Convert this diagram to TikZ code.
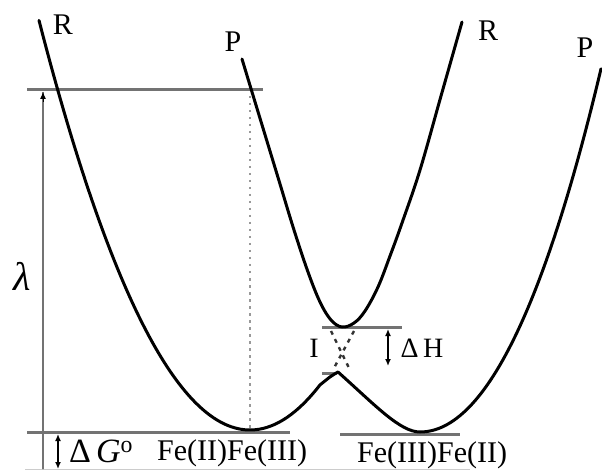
\documentclass[tikz,border=0pt]{standalone}
\usepackage{fontspec}
\setmainfont{Liberation Serif}
\usetikzlibrary{arrows.meta}
\begin{document}
\begin{tikzpicture}[x=1pt,y=-1pt,
  curve/.style={line width=3pt, black, line join=round, line cap=round},
  level/.style={line width=3pt, black!55},
  faint/.style={line width=1.2pt, black!20},
  dimline/.style={line width=2pt, black!55},
  arr/.style={{Latex[length=7pt,width=6pt]}-{Latex[length=7pt,width=6pt]}, line width=1.6pt, black},
  diab/.style={line width=2.4pt, black!80, dash pattern=on 4pt off 5pt},
  lbl/.style={inner sep=0pt, font=\fontsize{30}{30}\selectfont},
  fe/.style={inner sep=0pt, font=\fontsize{30}{30}\selectfont}]
\useasboundingbox (0,0) rectangle (602,470);
% levels
\coordinate (lamTopL) at (27,90);   \coordinate (lamTopR) at (263,90);
\coordinate (gL) at (27,432);      \coordinate (gR) at (290,432);
\coordinate (pL) at (340,434);     \coordinate (pR) at (460,434);
\coordinate (bL) at (25,470);      \coordinate (bR) at (470,470);
\coordinate (hL) at (322,327);     \coordinate (hR) at (402,327);
\coordinate (cL) at (322,373);     \coordinate (cR) at (337,373);
\draw[level] (lamTopL) -- (lamTopR);
\draw[level] (gL) -- (gR);
\draw[level] (pL) -- (pR);
\draw[level] (hL) -- (hR);
\draw[level] (cL) -- (cR);
\draw[faint] (bL) -- (bR);
% dotted vertical
\coordinate (dT) at (250,96); \coordinate (dB) at (250,428);
\draw[line width=2.6pt, black!40, dash pattern=on 2.5pt off 4.5pt] (dT) -- (dB);
% arrows
\coordinate (lamA) at (43,92); \coordinate (lamB) at (43,469);
\draw[dimline] (lamA) -- (lamB);
\draw[{Latex[length=7pt,width=6pt]}-, line width=1pt, black] (lamA) -- +(0,10);
\draw[-{Latex[length=7pt,width=6pt]}, line width=1pt, black] ([yshift=-10pt]lamB) -- (lamB);
\coordinate (dgA) at (58,434); \coordinate (dgB) at (58,469);
\draw[arr] (dgA) -- (dgB);
\coordinate (dhA) at (388,329); \coordinate (dhB) at (388,366);
\draw[arr] (dhA) -- (dhB);
% lower surface
\coordinate (cusp) at (338,372);
\coordinate (pmin) at (420,432);
\draw[curve] plot[domain=39:320, samples=80] (\x, {430-0.92*((\x-250)/10)^2}) .. controls (331,376) .. (cusp);
\draw[curve] (cusp) .. controls (375,405) and (400,432) .. (pmin)
  -- plot[domain=0:18.1, samples=60] ({420+10*\x}, {432-\x^2-0.006*\x^3});
% upper surface
\draw[curve] plot[smooth, tension=0.6] coordinates {(242,59) (252,92) (266,138) (280,184) (294,230) (308,272) (320,302) (331,320) (342,327) (354,323) (365,311) (378,287) (390,256) (402,223) (420,170) (441,96) (462,22)};
% diabatic dashes
\coordinate (x1) at (331,331); \coordinate (x2) at (349,368);
\coordinate (x3) at (354,331); \coordinate (x4) at (334,368);
\draw[diab] (x1) -- (x2);
\draw[diab] (x3) -- (x4);
% labels
\node[lbl] (R1) at (63,25) {R};
\node[lbl] (P1) at (233,42) {P};
\node[lbl] (R2) at (488,31) {R};
\node[lbl] (P2) at (585,48) {P};
\node[inner sep=0pt, font=\fontsize{40}{40}\selectfont] (lam) at (22,276) {\textit{λ}};
\node[inner sep=0pt, font=\fontsize{28}{28}\selectfont] (I) at (314,348) {I};
\node[inner sep=0pt, font=\fontsize{28}{28}\selectfont] (dH) at (422,348) {Δ\,H};
\node[inner sep=0pt, font=\fontsize{34}{34}\selectfont, anchor=base west] (dG) at (69,462) {Δ\hspace{5pt}\textit{G}\textsuperscript{o}};
\node[fe, anchor=base west] (fe1) at (157,460) {Fe(II)Fe(III)};
\node[fe, anchor=base west] (fe2) at (357,462) {Fe(III)Fe(II)};
\end{tikzpicture}
\end{document}
